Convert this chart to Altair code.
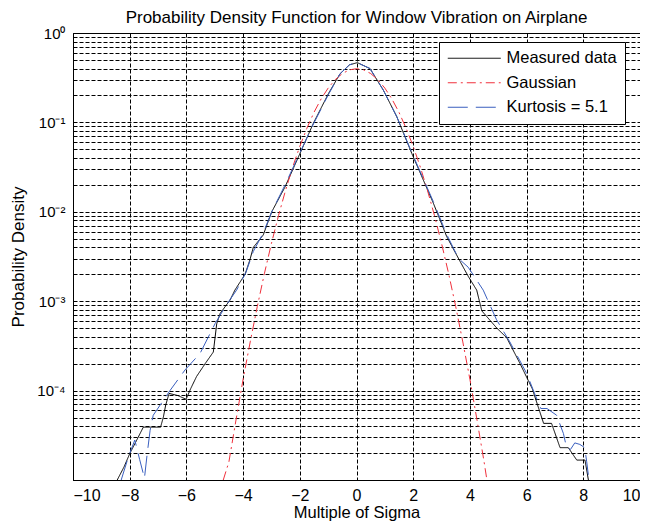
import altair as alt
import pandas as pd

# ---- data ----
measured_x = [-8.44, -8.2, -7.99, -7.75, -7.52, -6.91, -6.81, -6.73, -6.61, -6.3, -6.01, -5.85,
              -5.64, -5.34, -5.05, -4.93, -4.81, -4.46, -4.29, -3.93, -3.76, -3.64, -3.29, -2.99,
              -2.52, -2.05, -1.52, -0.99, -0.58, -0.25, 0.03, 0.476, 0.945, 1.42, 1.95, 2.71,
              3.18, 3.65, 3.94, 4.24, 4.42, 4.6, 4.95, 5.30, 5.77, 6.2, 6.35, 6.6, 6.88, 7.18,
              7.47, 7.77, 8.06, 8.18]
measured_y = [1.0e-5, 1.4e-5, 2.0e-5, 2.8e-5, 3.9e-5, 3.9e-5, 5.1e-5, 6.9e-5, 9.3e-5, 8.8e-5, 8.0e-5, 1.05e-4,
              1.44e-4, 2.0e-4, 2.7e-4, 5.6e-4, 7.3e-4, 1.03e-3, 1.33e-3, 2.0e-3, 2.9e-3, 4.0e-3, 5.5e-3, 1.0e-2,
              1.9e-2, 4.1e-2, 9.8e-2, 0.21, 0.35, 0.44, 0.466, 0.40, 0.23, 0.116, 0.045, 0.0125,
              5.3e-3, 2.8e-3, 1.9e-3, 1.33e-3, 7.8e-4, 6.7e-4, 5.0e-4, 3.9e-4, 2.0e-4, 1.05e-4, 7.5e-5, 4.3e-5, 4.3e-5, 2.3e-5,
              2.3e-5, 1.67e-5, 1.67e-5, 1.0e-5]

gauss_x = [-4.7, -4.5, -4.25, -4.0, -3.75, -3.5, -3.25, -3.0, -2.75, -2.5, -2.25, -2.0, -1.75, -1.5,
           -1.25, -1.0, -0.75, -0.5, -0.25, 0.0, 0.25, 0.5, 0.75, 1.0, 1.25, 1.5, 1.75, 2.0, 2.25,
           2.5, 2.75, 3.0, 3.25, 3.5, 3.75, 4.0, 4.25, 4.5, 4.6]
gauss_y = [1.0e-5, 1.6e-5, 4.7e-5, 1.34e-4, 3.5e-4, 8.7e-4, 2.03e-3, 4.43e-3, 9.1e-3, 1.75e-2, 3.17e-2, 5.4e-2, 8.6e-2, 0.1295,
           0.1826, 0.242, 0.301, 0.352, 0.387, 0.399, 0.387, 0.352, 0.301, 0.242, 0.1826, 0.1295, 8.6e-2, 5.4e-2, 3.17e-2,
           1.75e-2, 9.1e-3, 4.43e-3, 2.03e-3, 8.7e-4, 3.5e-4, 1.34e-4, 4.7e-5, 1.6e-5, 1.0e-5]

kurt_x = [-8.3, -8.05, -7.82, -7.65, -7.48, -7.38, -7.28, -7.17, -6.58, -6.05, -5.52, -4.99, -4.6,
          -4.23, -3.9, -3.64, -3.29, -2.99, -2.52, -2.05, -1.52, -0.99, -0.58, -0.25, 0.0, 0.476,
          0.945, 1.42, 1.95, 2.71, 3.18, 3.6, 3.94, 4.47, 4.94, 5.41, 6.0, 6.3, 6.5, 6.72, 7.06,
          7.3, 7.41, 7.55, 7.7, 7.88, 8.05, 8.12, 8.2]
kurt_y = [1.0e-5, 1.8e-5, 2.8e-5, 1.7e-5, 1.05e-5, 2.0e-5, 3.6e-5, 5.3e-5, 1.0e-4, 1.7e-4, 2.6e-4, 5.6e-4, 9.0e-4,
          1.33e-3, 2.1e-3, 3.6e-3, 5.8e-3, 1.0e-2, 2.0e-2, 4.2e-2, 9.6e-2, 0.205, 0.35, 0.44, 0.47, 0.40,
          0.23, 0.116, 0.046, 0.013, 5.6e-3, 3.0e-3, 2.4e-3, 1.33e-3, 6.2e-4, 3.5e-4, 1.56e-4, 9.0e-5, 6.3e-5, 6.3e-5, 5.3e-5,
          3.3e-5, 2.3e-5, 2.2e-5, 2.6e-5, 2.5e-5, 2.3e-5, 1.6e-5, 1.0e-5]

series_names = ["Measured data", "Gaussian", "Kurtosis = 5.1"]
series_colors = ["#000000", "#f0303c", "#3a5fbf"]
series_dashes = [[1, 0], [9, 4, 2, 4], [20, 8]]

x_ticks = [-10, -8, -6, -4, -2, 0, 2, 4, 6, 8, 10]
y_grid = [m * 10.0 ** d for d in range(-5, 0) for m in range(1, 10)] + [1.0]

title_text = "Probability Density Function for Window Vibration on Airplane"
x_title = "Multiple of Sigma"
y_title = "Probability Density"

frames = []
for name, xs, ys in [(series_names[0], measured_x, measured_y),
                     (series_names[1], gauss_x, gauss_y),
                     (series_names[2], kurt_x, kurt_y)]:
    frames.append(pd.DataFrame({"x": xs, "y": ys, "series": name, "order": range(len(xs))}))
df = pd.concat(frames, ignore_index=True)

FONT = "Liberation Sans"

label_expr = ("datum.value > 0.95 ? '10⁰' : abs(datum.value-0.1) < 1e-9 ? '10⁻¹' : "
              "abs(datum.value-0.01) < 1e-10 ? '10⁻²' : abs(datum.value-0.001) < 1e-11 ? '10⁻³' : "
              "abs(datum.value-0.0001) < 1e-12 ? '10⁻⁴' : ''")

chart = alt.Chart(df).mark_line(strokeWidth=1, clip=True).encode(
    x=alt.X("x:Q", title=x_title,
            scale=alt.Scale(domain=[-10, 10], nice=False, zero=False),
            axis=alt.Axis(values=x_ticks, format="d", ticks=False, labelPadding=7,
                          titlePadding=1, labelFontSize=16, titleFontSize=16.5,
                          gridDash=[4, 2], gridColor="#000000", gridOpacity=1, gridWidth=1)),
    y=alt.Y("y:Q", title=y_title,
            scale=alt.Scale(type="log", domain=[1e-5, 1], nice=False),
            axis=alt.Axis(values=y_grid, labelExpr=label_expr, ticks=False, labelOverlap=False,
                          labelPadding=8, labelFontSize=15, titleFontSize=17,
                          titleX=-46, titleY=223.5, titleAngle=-90, titleAlign="center",
                          titleBaseline="bottom",
                          gridDash=[4, 2], gridColor="#000000", gridOpacity=1, gridWidth=1)),
    color=alt.Color("series:N", scale=alt.Scale(domain=series_names, range=series_colors),
                    legend=alt.Legend(title=None, orient="none", legendX=366, legendY=9,
                                      fillColor="white", strokeColor="black", padding=8,
                                      symbolType="M-5,0H5", symbolSize=112, symbolOffset=19,
                                      symbolStrokeWidth=1, labelOffset=24, labelFontSize=16.5,
                                      labelLimit=300,
                                      rowPadding=7.5, labelFont=FONT, labelColor="#000000")),
    strokeDash=alt.StrokeDash("series:N", scale=alt.Scale(domain=series_names, range=series_dashes),
                              legend=None),
    order="order:Q",
).properties(
    width=567, height=447,
    title=alt.TitleParams(title_text, fontSize=17, fontWeight="normal", font=FONT, offset=-1,
                          color="#000000"),
    autosize=alt.AutoSizeParams(type="none"),
    padding={"left": 65, "top": 25, "right": 0, "bottom": 41},
).configure_view(
    stroke="#000000", strokeWidth=1
).configure_axis(
    labelFont=FONT, titleFont=FONT, labelColor="#000000", titleColor="#000000",
    titleFontWeight="normal", domainColor="#000000"
)

chart.save("out.html", embed_options={"renderer": "svg", "actions": False})
